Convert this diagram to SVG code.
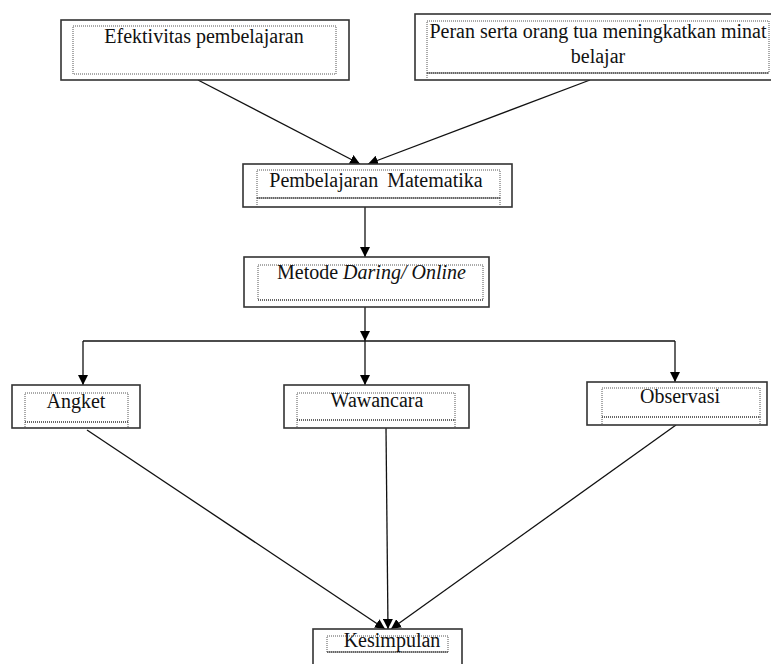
<svg xmlns="http://www.w3.org/2000/svg" width="771" height="664" viewBox="0 0 771 664">
<defs>
<marker id="ah" viewBox="0 0 10 10" refX="10" refY="5" markerWidth="10" markerHeight="10" markerUnits="userSpaceOnUse" orient="auto">
<path d="M0,0 L10,5 L0,10 Z" fill="#000"/>
</marker>
</defs>
<style>
.outer{fill:#fff;stroke:#333;stroke-width:1.6}
.inner{fill:none;stroke:#555;stroke-width:1;stroke-dasharray:1,1}
.dbl{fill:none;stroke:#666;stroke-width:2;stroke-dasharray:1,1}
.t{font-family:"Liberation Serif","Times New Roman",serif;font-size:20px;fill:#111}
.c{stroke:#111;stroke-width:1.3;fill:none}
.a{marker-end:url(#ah)}
</style>
<rect width="771" height="664" fill="#fff"/>
<g id="connectors">
<line class="c a" x1="198" y1="80" x2="360" y2="164"/>
<line class="c a" x1="590" y1="80" x2="368" y2="164"/>
<line class="c a" x1="365" y1="207" x2="365" y2="257"/>
<line class="c a" x1="365" y1="307" x2="365" y2="341"/>
<line class="c" x1="83" y1="341" x2="675" y2="341"/>
<line class="c a" x1="83" y1="341" x2="83" y2="385"/>
<line class="c a" x1="365" y1="341" x2="365" y2="385"/>
<line class="c a" x1="675" y1="341" x2="675" y2="382"/>
<line class="c a" x1="87" y1="430" x2="385" y2="629"/>
<line class="c a" x1="386" y1="428" x2="388" y2="629"/>
<line class="c a" x1="676" y1="425" x2="391" y2="629"/>
</g>
<g id="n1">
<rect class="outer" x="61" y="20" width="288" height="60"/>
<rect class="inner" x="73" y="26" width="263" height="48"/>
<text class="t" x="204" y="43" text-anchor="middle">Efektivitas pembelajaran</text>
</g>
<g id="n2">
<rect class="outer" x="415" y="14" width="360" height="66"/>
<rect class="inner" x="427" y="21" width="342" height="52"/>
<line class="dbl" x1="427" y1="73" x2="769" y2="73"/>
<line class="inner" x1="427" y1="73" x2="427" y2="81"/>
<text class="t" x="598" y="38" text-anchor="middle">Peran serta orang tua meningkatkan minat</text>
<text class="t" x="598" y="63" text-anchor="middle">belajar</text>
</g>
<g id="n3">
<rect class="outer" x="243" y="164" width="269" height="43"/>
<rect class="inner" x="257" y="170" width="243" height="28"/>
<line class="dbl" x1="257" y1="198" x2="500" y2="198"/>
<line class="inner" x1="257" y1="198" x2="257" y2="207"/>
<line class="inner" x1="500" y1="198" x2="500" y2="207"/>
<text class="t" x="376" y="187" text-anchor="middle" word-spacing="4">Pembelajaran Matematika</text>
</g>
<g id="n4">
<rect class="outer" x="244" y="257" width="245" height="50"/>
<rect class="inner" x="258" y="265" width="225" height="35"/>
<line class="dbl" x1="258" y1="300" x2="483" y2="300"/>
<text class="t" x="277" y="279">Metode <tspan font-style="italic">Daring/ Online</tspan></text>
</g>
<g id="n5">
<rect class="outer" x="12" y="385" width="128" height="43"/>
<rect class="inner" x="25" y="393" width="103" height="29"/>
<line class="dbl" x1="25" y1="422" x2="128" y2="422"/>
<line class="inner" x1="25" y1="422" x2="25" y2="428"/>
<line class="inner" x1="128" y1="422" x2="128" y2="428"/>
<text class="t" x="76" y="408" text-anchor="middle">Angket</text>
</g>
<g id="n6">
<rect class="outer" x="284" y="385" width="185" height="43"/>
<rect class="inner" x="297" y="393" width="158" height="27"/>
<line class="dbl" x1="297" y1="420" x2="455" y2="420"/>
<line class="inner" x1="297" y1="420" x2="297" y2="428"/>
<line class="inner" x1="455" y1="420" x2="455" y2="428"/>
<text class="t" x="377" y="407" text-anchor="middle">Wawancara</text>
</g>
<g id="n7">
<rect class="outer" x="587" y="382" width="180" height="43"/>
<rect class="inner" x="602" y="388" width="158" height="29"/>
<line class="dbl" x1="602" y1="417" x2="760" y2="417"/>
<line class="inner" x1="602" y1="417" x2="602" y2="425"/>
<line class="inner" x1="760" y1="417" x2="760" y2="425"/>
<text class="t" x="680" y="403" text-anchor="middle">Observasi</text>
</g>
<g id="n8">
<rect class="outer" x="313" y="629" width="149" height="40"/>
<rect class="inner" x="327" y="636" width="121" height="16"/>
<line class="dbl" x1="327" y1="652" x2="448" y2="652"/>
<text class="t" x="392" y="647" text-anchor="middle">Kesimpulan</text>
</g>
</svg>
